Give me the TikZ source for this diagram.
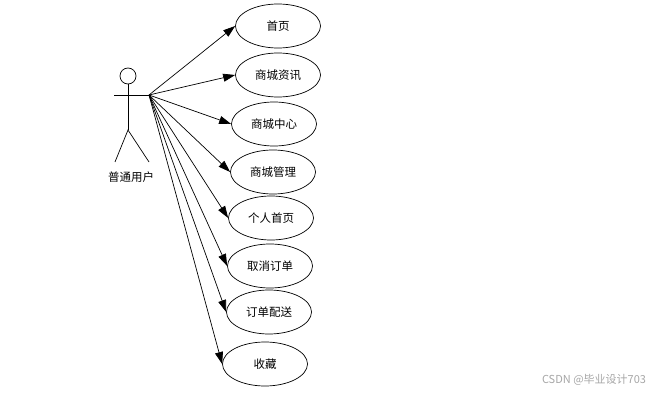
\documentclass[tikz,border=0pt]{standalone}
\usepackage{fontspec}
\newfontfamily\cjk{Noto Sans CJK SC}
\usetikzlibrary{shapes.geometric,arrows.meta}
\tikzset{
  usecase/.style={draw,ellipse,minimum width=85pt,minimum height=44pt,inner sep=0pt,
    font=\cjk\fontsize{11.5}{13}\selectfont},
  assoc/.style={-{Triangle[length=12pt,width=8pt]}}
}
\begin{document}
\begin{tikzpicture}[x=1pt,y=-1pt,line width=0.7pt]
	\useasboundingbox (0,0) rectangle (664,393);
	% actor
	\draw (128,76) circle (8);
	\draw (114,95) to (149,95);
	\draw (128,84) to (128,130);
	\draw (115,162) to (128,130) to (149,162);
	\coordinate (hand) at (149,95);
	\node[font=\cjk\fontsize{11.5}{13}\selectfont] (user) at (131,177) {普通用户};
	% use cases
	\node[usecase] (home) at (278,26) {首页};
	\node[usecase] (news) at (278,75) {商城资讯};
	\node[usecase] (center) at (274,124) {商城中心};
	\node[usecase] (manage) at (273,172) {商城管理};
	\node[usecase] (myhome) at (271,218) {个人首页};
	\node[usecase] (cancel) at (270,266) {取消订单};
	\node[usecase] (deliver) at (269,312) {订单配送};
	\node[usecase] (fav) at (265,364) {收藏};
	% associations
	\draw[assoc] (hand) -- (home.west);
	\draw[assoc] (hand) -- (news.west);
	\draw[assoc] (hand) -- (center.west);
	\draw[assoc] (hand) -- (manage.west);
	\draw[assoc] (hand) -- (myhome.west);
	\draw[assoc] (hand) -- (cancel.west);
	\draw[assoc] (hand) -- (deliver.west);
	\draw[assoc] (hand) -- (fav.west);
	\node[font=\cjk\fontsize{11}{13}\selectfont,text=black!35] (mark) at (594,380) {CSDN @毕业设计703};
\end{tikzpicture}
\end{document}
